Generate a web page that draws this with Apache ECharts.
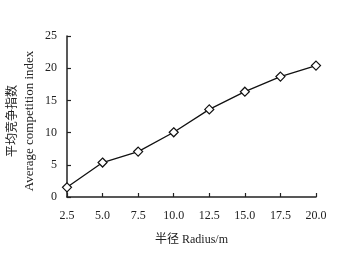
<!DOCTYPE html>
<html><head><meta charset="utf-8">
<script src="https://cdn.jsdelivr.net/npm/echarts@6/dist/echarts.min.js"></script>
<style>html,body{margin:0;padding:0;background:#fff}#c{width:338px;height:265px}</style>
</head><body><div id="c"></div>
<script>
var radius = [2.5, 5.0, 7.5, 10.0, 12.5, 15.0, 17.5, 20.0];
var competition = [1.5, 5.35, 7.05, 10.05, 13.6, 16.35, 18.7, 20.4];
var yTicks = [0, 5, 10, 15, 20, 25];
var xName = '半径 Radius/m';
var yNameZh = '平均竞争指数';
var yNameEn = 'Average competition index';
var font = '"Liberation Serif", "Noto Sans CJK SC", serif';
var chart = echarts.init(document.getElementById('c'));
chart.setOption({
  animation: false,
  backgroundColor: '#fff',
  grid: {left: 67, right: 22, top: 36, bottom: 68, containLabel: false, outerBoundsMode: 'none'},
  graphic: [
    {type: 'text', x: 13, y: 121, rotation: Math.PI / 2,
     style: {text: yNameZh, font: '12px ' + font, fill: '#222', align: 'center', verticalAlign: 'middle',
             textAlign: 'center', textVerticalAlign: 'middle'}},
    {type: 'text', x: 30, y: 121, rotation: Math.PI / 2,
     style: {text: yNameEn, font: '13px ' + font, fill: '#222', align: 'center', verticalAlign: 'middle',
             textAlign: 'center', textVerticalAlign: 'middle'}}
  ],
  xAxis: {
    type: 'value', min: radius[0], max: radius[radius.length-1], interval: 2.5,
    name: xName, nameLocation: 'middle', nameGap: 37,
    nameTextStyle: {fontFamily: font, fontSize: 12, color: '#222'},
    axisLine: {lineStyle: {color: '#222', width: 1.5}},
    axisTick: {inside: true, length: 4, lineStyle: {color: '#222', width: 1.2}},
    axisLabel: {fontFamily: font, fontSize: 12, color: '#222', margin: 13,
      formatter: function(v){ return v.toFixed(1); }},
    splitLine: {show: false}
  },
  yAxis: {
    type: 'value', min: yTicks[0], max: yTicks[yTicks.length-1], interval: 5,
    axisLine: {show: true, lineStyle: {color: '#222', width: 1.5}},
    axisTick: {show: true, inside: true, length: 4, lineStyle: {color: '#222', width: 1.2}},
    axisLabel: {fontFamily: font, fontSize: 12, color: '#222', margin: 10},
    splitLine: {show: false}
  },
  series: [{
    type: 'line',
    data: radius.map(function(r, i){ return [r, competition[i]]; }),
    symbol: 'diamond', symbolSize: 9,
    lineStyle: {color: '#111', width: 1.3},
    itemStyle: {color: '#fff', borderColor: '#111', borderWidth: 1.2}
  }]
});
</script></body></html>
